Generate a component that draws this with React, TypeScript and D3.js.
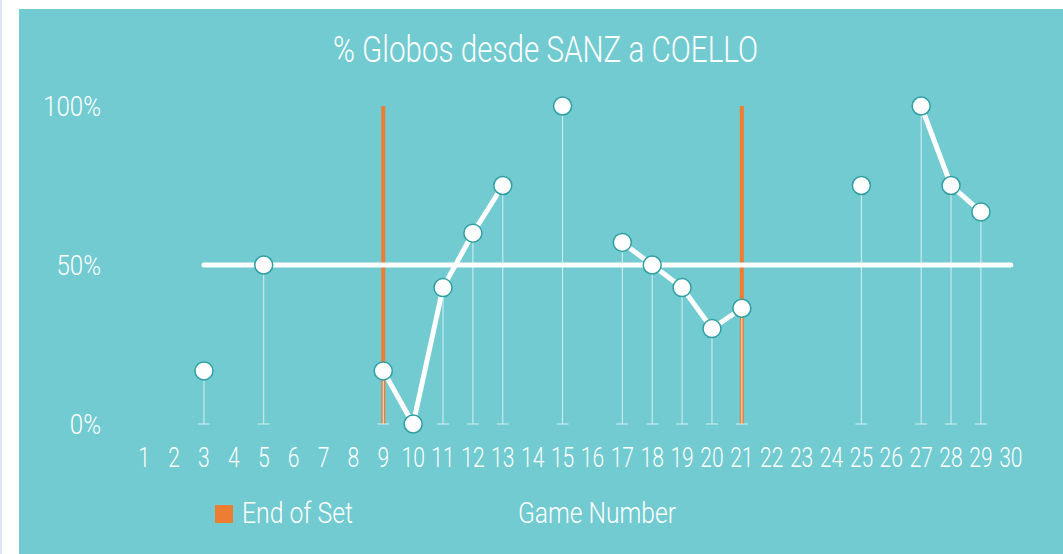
import { useEffect, useRef } from 'react';
import * as d3 from 'd3';

// game numbers on the x axis
const games = d3.range(1, 31);
// % of lobs from SANZ to COELLO per game
const lobGames = [3, 5, 9, 10, 11, 12, 13, 15, 17, 18, 19, 20, 21, 25, 27, 28, 29];
const lobPct = [16.7, 50, 16.7, 0, 42.9, 60, 75, 100, 57.1, 50, 42.9, 30, 36.4, 75, 100, 75, 66.7];
// games where a set ended
const setEnds = [9, 21];
// average line
const avgFrom = 3;
const avgTo = 30;
const avgValue = 50;
const yTicks = [0, 50, 100];

const W = 1063;
const H = 554;
const TEAL = '#71cbd0';
const ORANGE = '#ed7d31';
const FONT = 'Roboto, "Open Sans", sans-serif';

function App() {
  const svgRef = useRef();

  const createGraph = () => {
    const svg = d3.select(svgRef.current);
    svg.selectAll('*').remove();

    svg.append('rect').attr('width', W).attr('height', H).attr('fill', '#fff');
    svg.append('rect').attr('x', 0).attr('y', 0).attr('width', 2).attr('height', H).attr('fill', '#dfe4f6');
    svg.append('rect').attr('x', 19).attr('y', 9).attr('width', W - 19).attr('height', H - 9).attr('fill', TEAL);

    const x = d3.scaleLinear().domain([1, 30]).range([144.2, 1010.8]);
    const y = d3.scaleLinear().domain([0, 100]).range([424, 106]);

    // title
    svg
      .append('text')
      .attr('x', 333)
      .attr('y', 62)
      .attr('textLength', 425)
      .attr('lengthAdjust', 'spacingAndGlyphs')
      .attr('font-family', FONT)
      .attr('font-weight', 300)
      .attr('font-size', 37)
      .attr('fill', '#fff')
      .text('% Globos desde SANZ a COELLO');

    // y labels
    svg
      .append('g')
      .selectAll('text')
      .data(yTicks)
      .join('text')
      .attr('transform', (d) => `translate(101, ${y(d)}) scale(0.86, 1)`)
      .attr('dy', '0.36em')
      .attr('text-anchor', 'end')
      .attr('font-family', FONT)
      .attr('font-weight', 300)
      .attr('font-size', 28)
      .attr('fill', '#fff')
      .text((d) => `${d}%`);

    // x labels
    svg
      .append('g')
      .selectAll('text')
      .data(games)
      .join('text')
      .attr('transform', (d) => `translate(${x(d)}, 467) scale(0.78, 1)`)
      .attr('text-anchor', 'middle')
      .attr('font-family', FONT)
      .attr('font-weight', 300)
      .attr('font-size', 27)
      .attr('fill', '#fff')
      .text((d) => d);

    // end of set bars
    svg
      .append('g')
      .selectAll('rect')
      .data(setEnds)
      .join('rect')
      .attr('x', (d) => x(d) - 2)
      .attr('y', y(100))
      .attr('width', 4)
      .attr('height', y(0) - y(100))
      .attr('fill', ORANGE);

    const pts = lobGames.map((g, i) => ({ g, v: lobPct[i] }));

    // stems
    const stems = svg.append('g').attr('stroke', '#d6f0f1').attr('stroke-width', 1);
    stems
      .selectAll('line.stem')
      .data(pts)
      .join('line')
      .attr('class', 'stem')
      .attr('x1', (d) => x(d.g))
      .attr('x2', (d) => x(d.g))
      .attr('y1', (d) => y(d.v))
      .attr('y2', y(0));
    stems
      .selectAll('line.foot')
      .data(pts)
      .join('line')
      .attr('class', 'foot')
      .attr('x1', (d) => x(d.g) - 6)
      .attr('x2', (d) => x(d.g) + 6)
      .attr('y1', y(0))
      .attr('y2', y(0));

    // average line
    svg
      .append('line')
      .attr('x1', x(avgFrom))
      .attr('x2', x(avgTo))
      .attr('y1', y(avgValue))
      .attr('y2', y(avgValue))
      .attr('stroke', '#fff')
      .attr('stroke-width', 5)
      .attr('stroke-linecap', 'round');

    // connect consecutive games
    const series = games.map((g) => {
      const i = lobGames.indexOf(g);
      return { g, v: i < 0 ? null : lobPct[i] };
    });
    const line = d3
      .line()
      .defined((d) => d.v !== null)
      .x((d) => x(d.g))
      .y((d) => y(d.v));
    svg
      .append('path')
      .datum(series)
      .attr('fill', 'none')
      .attr('stroke', '#fff')
      .attr('stroke-width', 5)
      .attr('d', line);

    svg
      .append('g')
      .selectAll('circle')
      .data(pts)
      .join('circle')
      .attr('cx', (d) => x(d.g))
      .attr('cy', (d) => y(d.v))
      .attr('r', 9)
      .attr('fill', '#fff')
      .attr('stroke', '#2f9fa3')
      .attr('stroke-width', 1.5);

    // legend
    svg.append('rect').attr('x', 215).attr('y', 505).attr('width', 18).attr('height', 18).attr('fill', ORANGE);
    svg
      .append('text')
      .attr('x', 242)
      .attr('y', 523)
      .attr('textLength', 111)
      .attr('lengthAdjust', 'spacingAndGlyphs')
      .attr('font-family', FONT)
      .attr('font-weight', 300)
      .attr('font-size', 29)
      .attr('fill', '#fff')
      .text('End of Set');
    svg
      .append('text')
      .attr('x', 518)
      .attr('y', 523)
      .attr('textLength', 158)
      .attr('lengthAdjust', 'spacingAndGlyphs')
      .attr('font-family', FONT)
      .attr('font-weight', 300)
      .attr('font-size', 29)
      .attr('fill', '#fff')
      .text('Game Number');
  };

  useEffect(() => {
    createGraph();
  }, []);

  return (
    <svg
      ref={svgRef}
      width={W}
      height={H}
      style={{ position: 'fixed', left: 0, top: 0, display: 'block' }}
    />
  );
}

export default App;
